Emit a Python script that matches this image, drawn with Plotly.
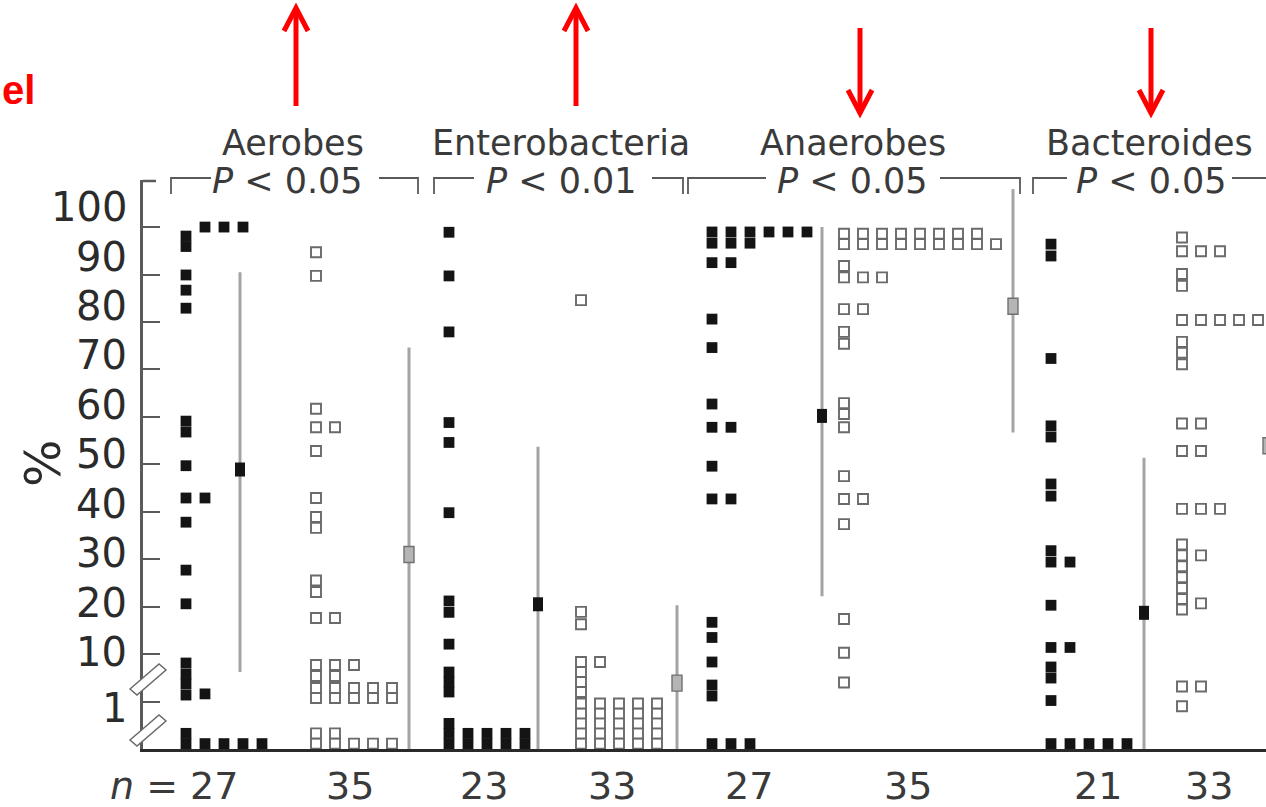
import math
import plotly.graph_objects as go

# ---------------- data ----------------
group_names = ["Aerobes", "Enterobacteria", "Anaerobes", "Bacteroides"]
p_values = ["0.05", "0.01", "0.05", "0.05"]
arrow_directions = ["up", "up", "down", "down"]
n_counts = [27, 35, 23, 33, 27, 35, 21, 33]
y_tick_values = [1, 10, 20, 30, 40, 50, 60, 70, 80, 90, 100]
y_title = "%"
side_label = "el"

aerobes_filled = [100, 100, 100, 98.1, 95.9, 89.9, 86.7, 82.9, 59.1, 56.8, 49.7,
                  42.9, 42.9, 37.8, 27.7, 20.6, 6.49, 3.81, 2.34, 1.37, 1.45,
                  0.33, 0, 0, 0, 0, 0]
aerobes_open = [94.7, 89.7, 61.7, 57.8, 57.8, 52.8, 42.9, 38.9, 36.6, 25.5, 23.1,
                17.6, 17.6, 5.89, 5.89, 5.89, 3.45, 3.45,
                1.93, 1.93, 1.93, 1.93, 1.93, 1.19, 1.19, 1.19, 1.19, 1.19,
                0.33, 0.33, 0, 0, 0, 0, 0]
entero_filled = [98.9, 89.7, 77.9, 58.8, 54.6, 39.8, 21.2, 18.8, 12.1, 4.19, 2.58, 1.59,
                 0.54, 0.33, 0.33, 0.33, 0.33, 0.33, 0, 0, 0, 0, 0]
entero_open = [84.6, 18.9, 16.3, 6.82, 6.82, 4.19, 2.58, 1.59,
               0.96, 0.96, 0.96, 0.96, 0.96, 0.75, 0.75, 0.75, 0.75, 0.75,
               0.54, 0.54, 0.54, 0.54, 0.54, 0.33, 0.33, 0.33, 0.33, 0.33,
               0, 0, 0, 0, 0]
anaerobes_filled = [98.96, 98.96, 98.96, 98.96, 98.96, 98.96, 96.6, 96.6, 96.6, 92.5, 92.5,
                    80.6, 74.6, 62.7, 57.8, 57.8, 49.6, 42.7, 42.7, 16.7, 13.5, 6.82,
                    2.23, 1.31, 0, 0, 0]
anaerobes_open = [98.6, 98.6, 98.6, 98.6, 98.6, 98.6, 98.6, 98.6,
                  96.4, 96.4, 96.4, 96.4, 96.4, 96.4, 96.4, 96.4, 96.4,
                  91.8, 89.4, 89.4, 89.4, 82.7, 82.7, 77.9, 75.4, 62.9, 60.6, 57.8,
                  47.5, 42.7, 42.7, 37.4, 17.4, 10.3, 2.52]
bacteroides_filled = [96.4, 93.9, 72.3, 58.1, 55.75, 45.85, 43.3, 31.8, 29.4, 29.4, 20.3,
                      11.4, 11.4, 5.35, 3.13, 1.05, 0, 0, 0, 0, 0]
bacteroides_open = [97.8, 94.9, 94.9, 94.9, 90.1, 87.6, 80.4, 80.4, 80.4, 80.4, 80.4,
                    75.8, 73.5, 71.1, 58.6, 58.6, 52.8, 52.8, 40.6, 40.6, 40.6,
                    33.1, 30.8, 30.8, 28.5, 26.2, 23.9, 21.6, 20.7, 19.4,
                    2.07, 2.07, 0.9]

subgroups = [aerobes_filled, aerobes_open, entero_filled, entero_open,
             anaerobes_filled, anaerobes_open, bacteroides_filled, bacteroides_open]
medians = [48.9, 31.0, 20.5, 2.45, 60.2, 83.3, 18.7, 53.9]
range_low = [4.2, 0, 0, 0, 22.2, 56.7, 0, 25]
range_high = [90.5, 74.6, 53.7, 20.3, 100, 108, 51.4, 85]

# ---------------- layout constants ----------------
W, H = 1266, 807
ML, MT, MB = 143, 180, 58
PW, PH = W - ML, H - MT - MB
Y_BOTTOM = -10.0
PX_PER_UNIT = 4.745
Y_TOP = Y_BOTTOM + PH / PX_PER_UNIT

first_col_x = [186, 316, 449, 581, 712, 844, 1051, 1182]
summary_x = [240, 409, 538, 677, 822, 1013, 1144, 1268]
COL_STEP = 19
SQ = 10.8
GAP_PX = 9.5

FONT = "DejaVu Sans"
TXT = "#3a3a3a"


def pos(v):
    """Broken % scale: linear 10-100, log 1-10, linear 0-1."""
    if v >= 10:
        return v
    if v >= 1:
        return 10 * math.log10(v)
    return -10 + 10 * v


def fx(px):
    return (px - ML) / PW


def fy(py):
    return (H - MB - py) / PH


BASE_P = Y_BOTTOM + (SQ / 2) / PX_PER_UNIT


def stack(values):
    cols = []
    out = []
    for v in sorted(values):
        p = max(pos(v), BASE_P)
        c = 0
        while True:
            if c >= len(cols):
                cols.append([])
            if all(abs(p - o) * PX_PER_UNIT >= GAP_PX for o in cols[c]):
                cols[c].append(p)
                out.append((c, p))
                break
            c += 1
    return out


fig = go.Figure()
shapes = []
annotations = []

# summary ranges
for i in range(8):
    fig.add_trace(go.Scatter(
        x=[summary_x[i], summary_x[i]],
        y=[pos(range_low[i]), pos(range_high[i])],
        mode="lines", line=dict(color="#a4a4a4", width=3),
        hoverinfo="skip", showlegend=False, cliponaxis=False))

# individual points
for i, vals in enumerate(subgroups):
    placed = stack(vals)
    xs = [first_col_x[i] + c * COL_STEP for c, _ in placed]
    ys = [p for _, p in placed]
    filled = i % 2 == 0
    marker = dict(symbol="square", size=SQ if filled else SQ - 0.8,
                  color="#141414" if filled else "white",
                  line=dict(width=0 if filled else 1.9,
                            color="#141414" if filled else "#6a6a6a"))
    fig.add_trace(go.Scatter(x=xs, y=ys, mode="markers", marker=marker,
                             hoverinfo="skip", showlegend=False, cliponaxis=False))

# median markers
for i in range(8):
    filled = i % 2 == 0
    hh = 7 / PX_PER_UNIT if filled else 8 / PX_PER_UNIT
    shapes.append(dict(type="rect", xref="x", yref="y",
                       x0=summary_x[i] - 5, x1=summary_x[i] + 5,
                       y0=pos(medians[i]) - hh, y1=pos(medians[i]) + hh,
                       fillcolor="#141414" if filled else "#b5b5b5",
                       line=dict(width=0 if filled else 1.4, color="#707070"),
                       layer="above"))

# top nub on y axis
shapes.append(dict(type="line", xref="paper", yref="paper",
                   x0=fx(143), x1=fx(156), y0=fy(181), y1=fy(181),
                   line=dict(color="#5a5a5a", width=2.5)))

# axis break marks
for cy in (677, 728):
    path = "M {} {} L {} {} L {} {} L {} {} Z".format(
        fx(130), fy(cy + 12), fx(159), fy(cy - 13),
        fx(166), fy(cy - 7), fx(137), fy(cy + 18))
    shapes.append(dict(type="path", xref="paper", yref="paper", path=path,
                       fillcolor="white", line=dict(color="#6a6a6a", width=1.5),
                       layer="above"))

# brackets
brackets = [(171, 211, 379, 418), (434, 474, 652, 683),
            (688, 766, 940, 1020), (1033, 1067, 1232, 1320)]
BY, BY2 = 178, 194
for (a, b, c, d) in brackets:
    shapes.append(dict(type="path", xref="paper", yref="paper",
                       path="M {} {} L {} {} L {} {}".format(fx(a), fy(BY2), fx(a), fy(BY), fx(b), fy(BY)),
                       line=dict(color="#5a5a5a", width=1.8)))
    shapes.append(dict(type="path", xref="paper", yref="paper",
                       path="M {} {} L {} {} L {} {}".format(fx(c), fy(BY), fx(d), fy(BY), fx(d), fy(BY2)),
                       line=dict(color="#5a5a5a", width=1.8)))

# red arrows
arrow_x = [296, 576, 860, 1151]
for ax, d in zip(arrow_x, arrow_directions):
    if d == "up":
        tip, tail, wing = 8, 106, 31
    else:
        tip, tail, wing = 113, 28, 90
    shapes.append(dict(type="line", xref="paper", yref="paper",
                       x0=fx(ax), x1=fx(ax), y0=fy(tail), y1=fy(tip),
                       line=dict(color="#ff0000", width=5)))
    shapes.append(dict(type="path", xref="paper", yref="paper",
                       path="M {} {} L {} {} L {} {}".format(fx(ax - 12), fy(wing), fx(ax), fy(tip), fx(ax + 12), fy(wing)),
                       line=dict(color="#ff0000", width=5)))

# y tick labels
for v in y_tick_values:
    lift = 2 + 0.2 * (v - 10) if v >= 10 else -6
    annotations.append(dict(text=str(v), xref="paper", yref="y", x=fx(129), y=pos(v),
                            xanchor="right", yanchor="middle", yshift=lift, showarrow=False,
                            font=dict(family=FONT, size=40, color="#2b2b2b")))

annotations.append(dict(text=y_title, xref="paper", yref="paper", x=fx(43), y=fy(463),
                        textangle=-90, showarrow=False, xanchor="center", yanchor="middle",
                        font=dict(family=FONT, size=50, color="#2b2b2b")))

# group labels and p values
group_cx = [293, 561, 853, 1149]
p_cx = [287, 561, 852, 1151]
for g, p, gx, px_ in zip(group_names, p_values, group_cx, p_cx):
    annotations.append(dict(text=g, xref="paper", yref="paper", x=fx(gx), y=fy(143),
                            showarrow=False, xanchor="center", yanchor="middle",
                            font=dict(family=FONT, size=35, color=TXT)))
    annotations.append(dict(text="<i>P</i> &lt; " + p, xref="paper", yref="paper",
                            x=fx(px_), y=fy(181), showarrow=False,
                            xanchor="center", yanchor="middle",
                            font=dict(family=FONT, size=35, color=TXT)))

# n labels
n_cx = [240, 350, 484, 612, 749, 908, 1098, 1209]
for k, (n, nx) in enumerate(zip(n_counts, n_cx)):
    if k == 0:
        annotations.append(dict(text="<i>n</i> = " + str(n), xref="paper", yref="paper",
                                x=fx(nx), y=fy(786), xanchor="right", yanchor="middle",
                                showarrow=False, font=dict(family=FONT, size=38, color=TXT)))
    else:
        annotations.append(dict(text=str(n), xref="paper", yref="paper",
                                x=fx(nx), y=fy(786), xanchor="center", yanchor="middle",
                                showarrow=False, font=dict(family=FONT, size=38, color=TXT)))

annotations.append(dict(text="<b>" + side_label + "</b>", xref="paper", yref="paper",
                        x=fx(0), y=fy(90), xanchor="left", yanchor="middle",
                        showarrow=False, font=dict(family="Liberation Sans", size=40, color="#ff0000")))

fig.update_layout(
    width=W, height=H,
    margin=dict(l=ML, r=0, t=MT, b=MB, pad=0),
    paper_bgcolor="white", plot_bgcolor="white",
    xaxis=dict(range=[ML, W], showline=True, linecolor="#2a2a2a", linewidth=2.5,
               ticks="", showticklabels=False, showgrid=False, zeroline=False, fixedrange=True),
    yaxis=dict(range=[Y_BOTTOM, Y_TOP], showline=True, linecolor="#5a5a5a", linewidth=2.5,
               ticks="inside", ticklen=17, tickwidth=2, tickcolor="#5a5a5a",
               tickvals=[pos(v) for v in y_tick_values], showticklabels=False,
               showgrid=False, zeroline=False, fixedrange=True),
    shapes=shapes, annotations=annotations, showlegend=False,
)

fig.write_html("out.html", config={"displayModeBar": False})
